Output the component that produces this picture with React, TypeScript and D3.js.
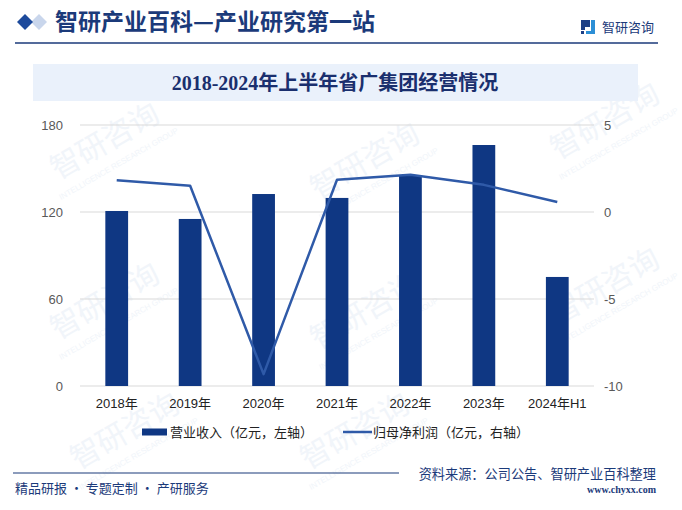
import { useEffect, useRef } from "react";
import * as d3 from "d3";

const years = ["2018年", "2019年", "2020年", "2021年", "2022年", "2023年", "2024年H1"];
const revenue = [120.7, 115.2, 132.4, 129.7, 145.5, 166.2, 75.2];
const netProfit = [1.83, 1.51, -9.32, 1.85, 2.14, 1.56, 0.57];
const leftTicks = [0, 60, 120, 180];
const rightTicks = [-10, -5, 0, 5];

const W = 682;
const H = 510;
const NAVY = "#1b3a7a";
const BAR = "#0f3783";
const LINE = "#2f5aa8";

const App = () => {
  const svgRef = useRef<SVGSVGElement>(null);

  useEffect(() => {
    if (!svgRef.current) return;
    const svg = d3.select(svgRef.current);
    svg.selectAll("*").remove();

    const left = 80;
    const right = 594;
    const top = 125;
    const bottom = 386;

    // faint watermarks
    const wm = svg.append("g").attr("fill", "#f1f5fa");
    const wmPos = [
      [110, 150], [370, 170], [610, 130], [110, 310], [370, 320], [610, 295], [130, 440], [360, 440],
    ];
    wmPos.forEach(([wx, wy]) => {
      wm.append("text")
        .attr("transform", `translate(${wx},${wy}) rotate(-30)`)
        .attr("font-size", 30)
        .attr("font-family", "'Noto Sans CJK SC', sans-serif")
        .attr("text-anchor", "middle")
        .text("智研咨询");
      wm.append("text")
        .attr("transform", `translate(${wx + 10},${wy + 16}) rotate(-30)`)
        .attr("font-size", 8)
        .attr("font-family", "'Liberation Sans', sans-serif")
        .attr("text-anchor", "middle")
        .text("INTELLIGENCE RESEARCH GROUP");
    });

    // header
    svg.append("path").attr("d", "M31,22 L39,14 L47,22 L39,30 Z").attr("fill", "#c9d6ec");
    svg.append("path").attr("d", "M17,22 L25,14 L33,22 L25,30 Z").attr("fill", "#1d4a9c");
    svg.append("text")
      .attr("x", 55).attr("y", 30)
      .attr("font-size", 23).attr("font-weight", "bold")
      .attr("fill", NAVY)
      .attr("font-family", "'Noto Sans CJK SC', sans-serif")
      .text("智研产业百科—产业研究第一站");
    svg.append("line")
      .attr("x1", 15).attr("x2", 658).attr("y1", 43).attr("y2", 43)
      .attr("stroke", NAVY).attr("stroke-width", 1.5);

    // logo
    const logo = svg.append("g").attr("transform", "translate(581,20)");
    logo.append("path").attr("d", "M0,0 H9 V7 H4 V10 H0 Z").attr("fill", "#1d3f86");
    logo.append("path").attr("d", "M0,11 H3 V14 H0 Z").attr("fill", "#1d3f86");
    logo.append("path").attr("d", "M10,0 H14 V14 H5 V11 H10 Z").attr("fill", "#2c8fd6");
    svg.append("text")
      .attr("x", 602).attr("y", 32)
      .attr("font-size", 13)
      .attr("fill", NAVY)
      .attr("font-family", "'Noto Sans CJK SC', sans-serif")
      .text("智研咨询");

    // title band
    svg.append("rect")
      .attr("x", 33).attr("y", 64).attr("width", 605).attr("height", 37)
      .attr("fill", "#eaf1fb");
    svg.append("text")
      .attr("x", 335).attr("y", 90)
      .attr("text-anchor", "middle")
      .attr("font-size", 20).attr("font-weight", "bold")
      .attr("fill", "#1a2f6e")
      .attr("font-family", "'Liberation Serif', 'Noto Sans CJK SC', serif")
      .text("2018-2024年上半年省广集团经营情况");

    // scales
    const x = d3.scaleBand<string>()
      .domain(years)
      .range([left, right])
      .paddingInner(0.69)
      .paddingOuter(0.345);
    const yL = d3.scaleLinear().domain([0, 180]).range([bottom, top]);
    const yR = d3.scaleLinear().domain([-10, 5]).range([bottom, top]);

    // grid
    svg.append("g")
      .selectAll("line")
      .data(leftTicks)
      .join("line")
      .attr("x1", left).attr("x2", right)
      .attr("y1", (d) => yL(d)).attr("y2", (d) => yL(d))
      .attr("stroke", "#d9d9d9").attr("stroke-width", 1);

    // left axis labels
    svg.append("g")
      .selectAll("text")
      .data(leftTicks)
      .join("text")
      .attr("x", 63).attr("y", (d) => yL(d) + 4.5)
      .attr("text-anchor", "end")
      .attr("font-size", 13)
      .attr("fill", "#595959")
      .attr("font-family", "'Liberation Sans', Arial, sans-serif")
      .text((d) => d);

    // right axis labels
    svg.append("g")
      .selectAll("text")
      .data(rightTicks)
      .join("text")
      .attr("x", 604).attr("y", (d) => yR(d) + 4.5)
      .attr("font-size", 13)
      .attr("fill", "#595959")
      .attr("font-family", "'Liberation Sans', Arial, sans-serif")
      .text((d) => d);

    // bars
    svg.append("g")
      .selectAll("rect")
      .data(revenue)
      .join("rect")
      .attr("x", (_, i) => x(years[i])!)
      .attr("y", (d) => yL(d))
      .attr("width", x.bandwidth())
      .attr("height", (d) => yL(0) - yL(d))
      .attr("fill", BAR);

    // line
    const line = d3.line<number>()
      .x((_, i) => x(years[i])! + x.bandwidth() / 2)
      .y((d) => yR(d));
    svg.append("path")
      .datum(netProfit)
      .attr("d", line)
      .attr("fill", "none")
      .attr("stroke", LINE)
      .attr("stroke-width", 2.5)
      .attr("stroke-linejoin", "round");

    // x labels
    svg.append("g")
      .selectAll("text")
      .data(years)
      .join("text")
      .attr("x", (d) => x(d)! + x.bandwidth() / 2)
      .attr("y", 408)
      .attr("text-anchor", "middle")
      .attr("font-size", 13)
      .attr("fill", "#222")
      .attr("font-family", "'Liberation Sans', 'Noto Sans CJK SC', sans-serif")
      .text((d) => d);

    // legend
    const lg = svg.append("g").attr("font-size", 13).attr("fill", "#222")
      .attr("font-family", "'Noto Sans CJK SC', sans-serif");
    lg.append("rect").attr("x", 142).attr("y", 428.5).attr("width", 25).attr("height", 7).attr("fill", BAR);
    lg.append("text").attr("x", 170).attr("y", 437).text("营业收入（亿元，左轴）");
    lg.append("line").attr("x1", 343).attr("x2", 372).attr("y1", 432).attr("y2", 432)
      .attr("stroke", LINE).attr("stroke-width", 2.5);
    lg.append("text").attr("x", 373).attr("y", 437).text("归母净利润（亿元，右轴）");

    // footer
    svg.append("line")
      .attr("x1", 13).attr("x2", 399).attr("y1", 473).attr("y2", 473)
      .attr("stroke", NAVY).attr("stroke-width", 1.2);
    svg.append("text")
      .attr("x", 15).attr("y", 493)
      .attr("font-size", 13).attr("fill", NAVY)
      .attr("font-family", "'Noto Sans CJK SC', sans-serif")
      .text("精品研报 · 专题定制 · 产研服务");
    svg.append("text")
      .attr("x", 656).attr("y", 479)
      .attr("text-anchor", "end")
      .attr("font-size", 13.2).attr("fill", NAVY)
      .attr("font-family", "'Noto Sans CJK SC', sans-serif")
      .text("资料来源：公司公告、智研产业百科整理");
    svg.append("text")
      .attr("x", 656).attr("y", 493)
      .attr("text-anchor", "end")
      .attr("font-size", 10).attr("font-weight", "bold").attr("fill", NAVY)
      .attr("font-family", "'Liberation Serif', serif")
      .text("www.chyxx.com");
  }, []);

  return (
    <div style={{ position: "absolute", left: 0, top: 0 }}>
      <svg ref={svgRef} width={W} height={H} style={{ display: "block", background: "#fff" }} />
    </div>
  );
};

export default App;
